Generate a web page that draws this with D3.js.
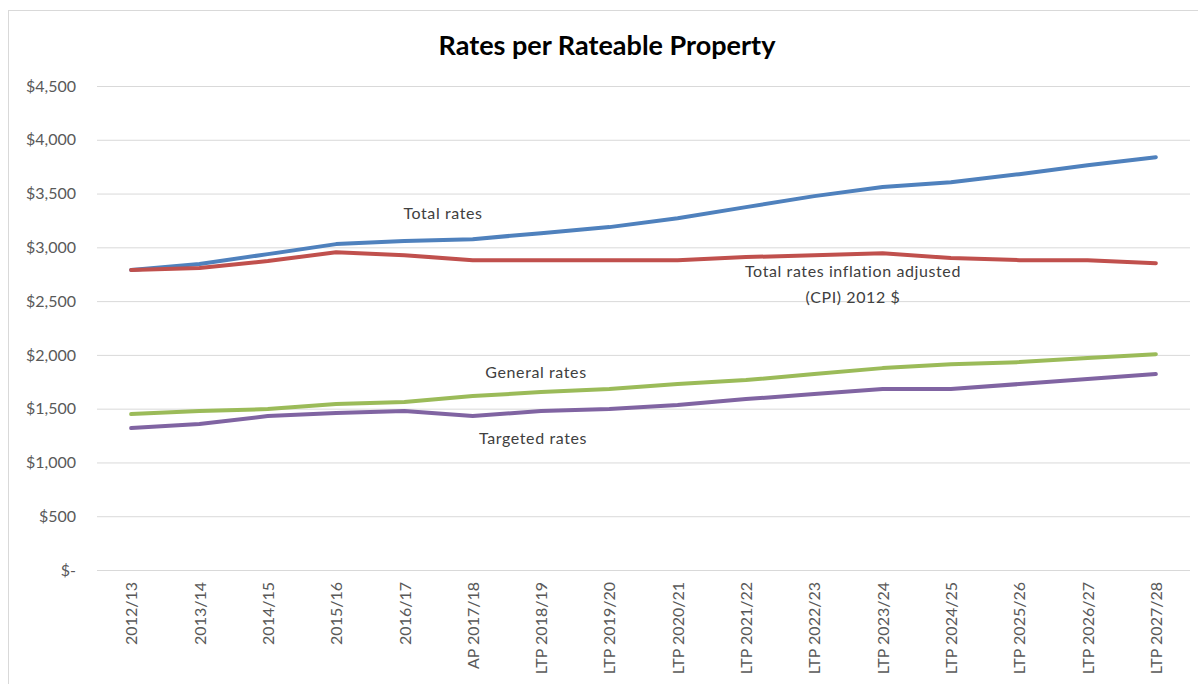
<!DOCTYPE html>
<html><head><meta charset="utf-8">
<script src="https://cdn.jsdelivr.net/npm/d3@7"></script>
<style>body{margin:0;background:#fff}svg{display:block}text{font-family:Lato,"Open Sans",sans-serif}</style>
</head><body><svg id="c" width="1198" height="684"></svg>
<script>
const categories=["2012/13","2013/14","2014/15","2015/16","2016/17","AP 2017/18","LTP 2018/19","LTP 2019/20","LTP 2020/21","LTP 2021/22","LTP 2022/23","LTP 2023/24","LTP 2024/25","LTP 2025/26","LTP 2026/27","LTP 2027/28"];
const totalRates=[2790,2845,2937,3030,3058,3076,3132,3188,3271,3374,3476,3560,3606,3680,3764,3838];
const totalRatesCPI=[2790,2807,2872,2955,2927,2881,2881,2881,2881,2909,2927,2946,2900,2881,2881,2853];
const generalRates=[1450,1478,1496,1543,1561,1617,1654,1682,1729,1766,1822,1877,1914,1933,1970,2007];
const targetedRates=[1320,1357,1431,1459,1478,1431,1478,1496,1533,1589,1636,1682,1682,1729,1775,1822];
const yTicks=[0,500,1000,1500,2000,2500,3000,3500,4000,4500];
const series=[
 {name:"Total rates",values:totalRates,color:"#4F81BD"},
 {name:"Total rates inflation adjusted (CPI) 2012 $",values:totalRatesCPI,color:"#C0504D"},
 {name:"General rates",values:generalRates,color:"#9BBB59"},
 {name:"Targeted rates",values:targetedRates,color:"#8064A2"}
];
const svg=d3.select("#c");
svg.append("rect").attr("x",8.5).attr("y",10.5).attr("width",1200).attr("height",700).attr("fill","none").attr("stroke","#d9d9d9");
const L=97,R=1190,T=86,B=570;
const x=d3.scalePoint().domain(categories).range([L,R]).padding(0.5);
const y=d3.scaleLinear().domain([0,4500]).range([B,T]);
const fmt=v=>v===0?"$-":"$"+d3.format(",")(v);
const ya=svg.append("g").attr("transform",`translate(${L},0)`).call(d3.axisLeft(y).tickValues(yTicks).tickSize(-(R-L)).tickFormat(fmt));
ya.select(".domain").remove();
ya.selectAll("line").attr("stroke","#d9d9d9").attr("stroke-width",1);
ya.selectAll("text").attr("x",-21).attr("fill","#595959").style("font-size","16px").attr("text-anchor","end");
const xa=svg.append("g").attr("transform",`translate(0,${B})`).call(d3.axisBottom(x).tickSize(0));
xa.select(".domain").remove();
xa.selectAll("text").attr("transform","rotate(-90)").attr("x",-12).attr("y",0).attr("dy","0.35em").attr("text-anchor","end").attr("fill","#595959").style("font-size","16px");
const line=d3.line().x((d,i)=>x(categories[i])).y(d=>y(d));
series.forEach(s=>{
 svg.append("path").datum(s.values).attr("d",line).attr("fill","none").attr("stroke",s.color).attr("stroke-width",4).attr("stroke-linecap","round").attr("stroke-linejoin","round");
});
svg.append("text").attr("x",607).attr("y",55).attr("text-anchor","middle").style("font-size","27px").style("font-weight","bold").attr("fill","#000").text("Rates per Rateable Property");
const lab=(t,xx,yy)=>svg.append("text").attr("x",xx).attr("y",yy).attr("text-anchor","middle").style("font-size","16px").style("letter-spacing","0.6px").attr("fill","#404040").text(t);
lab("Total rates",443,219);
lab("Total rates inflation adjusted",853,277);
lab("(CPI) 2012 $",853,303);
lab("General rates",536,378);
lab("Targeted rates",533,444);
</script></body></html>
